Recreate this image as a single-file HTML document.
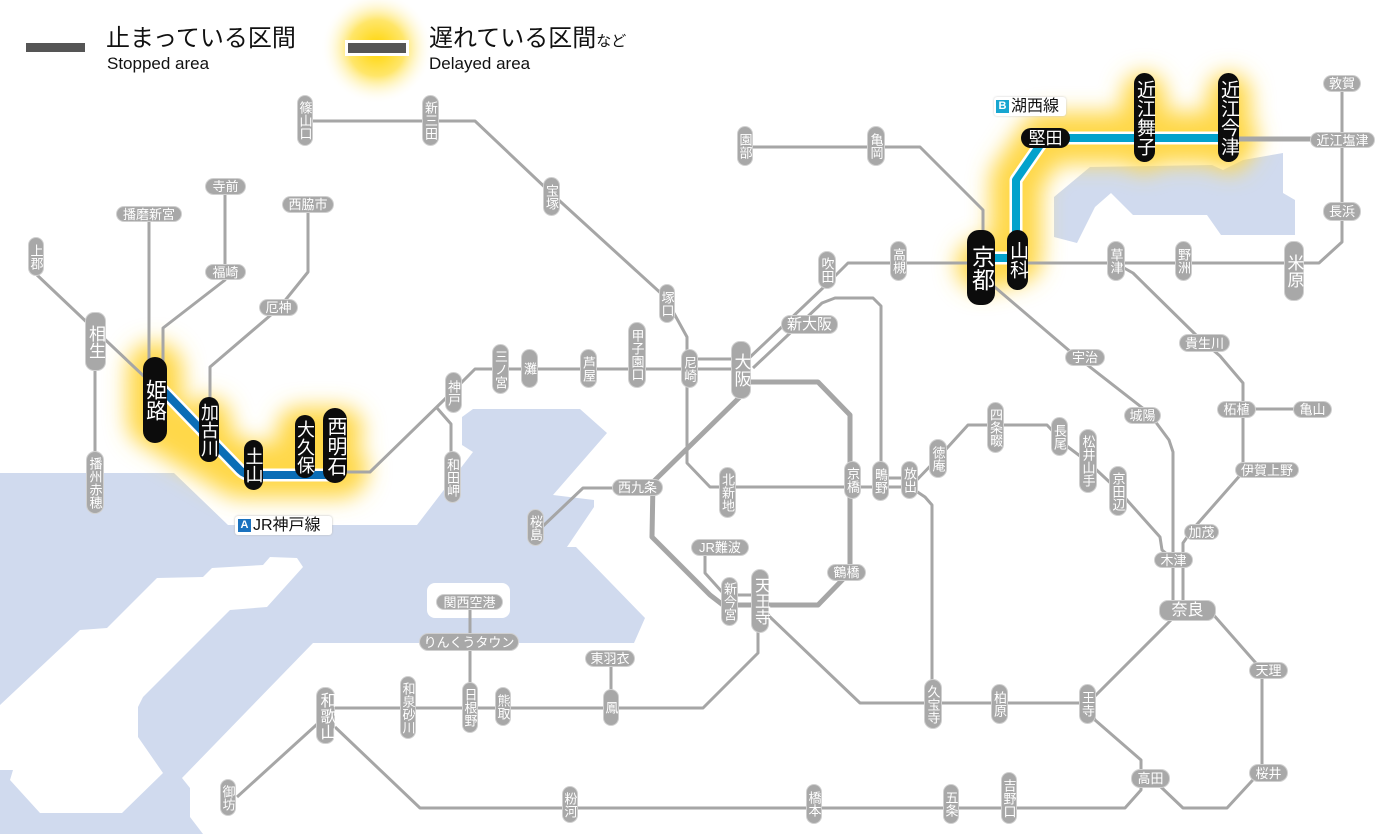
<!DOCTYPE html>
<html><head><meta charset="utf-8">
<style>
html,body{margin:0;padding:0;background:#fff}
#w{position:relative;width:1400px;height:834px;overflow:hidden;font-family:"Liberation Sans","Noto Sans CJK JP",sans-serif}
svg{position:absolute;left:0;top:0}
.p{position:absolute;background:#a8a8a8;color:#fff;border-radius:8px;display:flex;align-items:center;justify-content:center;font-size:13px;line-height:1;box-shadow:0 0 0 1px #d0d0d0;white-space:nowrap}
.v{writing-mode:vertical-rl;text-orientation:upright;letter-spacing:0}
.b{background:#0c0c0c;box-shadow:none;border-radius:12px;font-size:19px}
.L{position:absolute;color:#111;white-space:nowrap;line-height:1}
</style></head><body><div id="w">
<svg width="1400" height="834" viewBox="0 0 1400 834">
<defs>
<filter id="bl" x="-50%" y="-50%" width="200%" height="200%"><feGaussianBlur stdDeviation="11"/></filter>
<radialGradient id="rg"><stop offset="0" stop-color="#ffd400"/><stop offset="0.5" stop-color="#ffe66a"/><stop offset="1" stop-color="#fff" stop-opacity="0"/></radialGradient>
</defs>
<polygon fill="#d0daee" points="0,473 174,473 228,525 417,525 473,452 462,445 462,417 473,409 580,409 607,433 553,495 594,500 594,507 567,547 576,547 645,618 634,643 313,643 182,778 190,788 190,817 203,834 0,834"/>
<polygon fill="#fff" points="0,705 80,630 107,628 157,578 203,577 212,568 263,565 270,557 297,558 303,567 267,607 230,610 143,697 138,707 138,737 163,773 122,813 40,813 10,780 13,770 0,770"/>
<rect x="427" y="583" width="83" height="35" rx="8" fill="#fff"/>
<polygon fill="#d0daee" points="1054,197 1090,167 1212,165 1223,170 1243,160 1283,153 1283,193 1295,200 1295,235 1221,235 1207,215 1133,215 1111,193 1095,207 1077,243 1054,237"/>
<g filter="url(#bl)" fill="none" stroke-linecap="round" stroke-linejoin="round">
<path d="M155,370 L155,420 L240,470 L340,470" stroke="#ffd84a" stroke-width="56"/>
<path d="M208,420 L208,450 M300,430 L340,430" stroke="#ffd84a" stroke-width="46"/>
<path d="M982,265 L1016,258 L1016,180 L1045,138 L1232,138" stroke="#ffd84a" stroke-width="52"/>
<path d="M1144,95 L1144,150 M1229,95 L1229,150" stroke="#ffd84a" stroke-width="44"/>
</g>
<circle cx="377" cy="48" r="56" fill="url(#rg)"/>
<g fill="none" stroke="#a6a6a6" stroke-width="3" stroke-linejoin="round">
<path d="M37,275 L95,330 L150,382"/>
<path d="M95,340 L95,500"/>
<path d="M149,214 L149,370"/>
<path d="M225,187 L225,280 L163,328 L163,370"/>
<path d="M308,205 L308,272 L279,308 L210,367 L210,410"/>
<path d="M305,121 L475,121 L551,193 L665,297 L687,337 L687,463 L710,487 L910,487"/>
<path d="M347,472 L370,472 L446,398 L475,369 L740,369"/>
<path d="M690,359 L740,359"/>
<path d="M437,408 L451,424 L451,478"/>
<path d="M747,360 L826,285 L848,263 L1319,263 L1342,242 L1342,83"/>
<path d="M753,368 L822,303 L835,298 L873,298 L881,306 L881,480"/>
<path d="M745,147 L920,147 L983,210 L983,260"/>
<path d="M990,283 L1072,353 L1149,413 L1169,440 L1173,452 L1173,610"/>
<path d="M1115,263 L1133,273 L1198,337 L1220,356 L1243,383 L1243,472 L1192,530 L1183,543 L1183,610"/>
<path d="M1243,409 L1312,409"/>
<path d="M1229,140 L1342,140"/>
<path d="M910,487 L938,458 L968,425 L1047,425 L1068,447 L1088,462 L1118,490 L1160,537 L1162,550 L1174,560"/>
<path d="M910,487 L925,497 L932,505 L932,703"/>
<path d="M761,605 L770,617 L860,703 L1088,703 L1174,617"/>
<path d="M1088,703 L1095,720 L1141,760 L1141,790 L1125,808 L420,808 L335,727"/>
<path d="M1151,778 L1162,788 L1183,808 L1227,808 L1262,770 L1262,670 L1211,612"/>
<path d="M325,708 L703,708 L758,653 L758,620"/>
<path d="M325,717 L237,797"/>
<path d="M470,600 L470,708"/>
<path d="M611,658 L611,708"/>
<path d="M542,527 L583,488 L660,488"/>
<path d="M705,548 L705,573 L723,593"/>
<path d="M727,595 L760,595"/>
<path d="M881,478 L910,478"/>
<path d="M1232,138 L1342,138"/>
<path d="M982,258 L1016,258"/>
</g>
<path d="M745,392 L653,482 L652,537 L710,595 L723,605 L818,605 L850,572 L850,415 L818,382 L748,382" fill="none" stroke="#a6a6a6" stroke-width="5" stroke-linejoin="round"/>
<g fill="none" stroke-linejoin="round">
<path d="M155,382 L240,470 Q245,475 252,475 L335,475" stroke="#fff" stroke-width="13"/>
<path d="M155,382 L240,470 Q245,475 252,475 L335,475" stroke="#0a6db6" stroke-width="8"/>
<path d="M982,258 L1016,258 L1016,180 L1045,138 L1229,138" stroke="#fff" stroke-width="13"/>
<path d="M982,258 L1016,258 L1016,180 L1045,138 L1229,138" stroke="#03a2cc" stroke-width="8"/>
</g>
<rect x="26" y="43" width="59" height="9" fill="#555"/>
<rect x="345" y="40" width="64" height="16" fill="#fff"/>
<rect x="348" y="43" width="58" height="10" fill="#555"/>
</svg>

<div class="L" style="left:106px;top:27px;font-size:24px">止まっている区間</div>
<div class="L" style="left:107px;top:55px;font-size:17px">Stopped area</div>
<div class="L" style="left:429px;top:27px;font-size:24px">遅れている区間<span style="font-size:15px">など</span></div>
<div class="L" style="left:429px;top:55px;font-size:17px">Delayed area</div>

<div class="L" style="left:235px;top:516px;width:97px;height:19px;background:#fff;border-radius:3px;box-shadow:0 0 2px #bbb;font-size:16px;display:flex;align-items:center"><span style="background:#1a72bf;color:#fff;font-size:11px;font-weight:bold;width:13px;height:13px;display:inline-flex;align-items:center;justify-content:center;margin:0 2px 0 3px">A</span>JR神戸線</div>
<div class="L" style="left:994px;top:97px;width:72px;height:19px;background:#fff;border-radius:3px;box-shadow:0 0 2px #ccc;font-size:16px;display:flex;align-items:center"><span style="background:#18a6d0;color:#fff;font-size:11px;font-weight:bold;width:13px;height:13px;display:inline-flex;align-items:center;justify-content:center;margin:0 2px 0 2px">B</span>湖西線</div>

<div class="p v" style="left:29px;top:238px;width:14px;height:37px">上郡</div>
<div class="p v" style="left:86px;top:313px;width:19px;height:57px;font-size:17px">相生</div>
<div class="p v" style="left:87px;top:452px;width:16px;height:61px">播州赤穂</div>
<div class="p v" style="left:298px;top:96px;width:14px;height:49px">篠山口</div>
<div class="p v" style="left:423px;top:96px;width:15px;height:49px">新三田</div>
<div class="p v" style="left:544px;top:178px;width:15px;height:37px">宝塚</div>
<div class="p v" style="left:660px;top:285px;width:14px;height:37px">塚口</div>
<div class="p v" style="left:493px;top:345px;width:15px;height:48px">三ノ宮</div>
<div class="p v" style="left:522px;top:350px;width:15px;height:37px">灘</div>
<div class="p v" style="left:581px;top:350px;width:15px;height:37px">芦屋</div>
<div class="p v" style="left:629px;top:323px;width:16px;height:64px">甲子園口</div>
<div class="p v" style="left:446px;top:373px;width:15px;height:39px">神戸</div>
<div class="p v" style="left:445px;top:452px;width:15px;height:50px">和田岬</div>
<div class="p v" style="left:682px;top:350px;width:15px;height:37px">尼崎</div>
<div class="p v" style="left:732px;top:342px;width:18px;height:56px;font-size:17px">大阪</div>
<div class="p v" style="left:720px;top:468px;width:15px;height:49px">北新地</div>
<div class="p v" style="left:845px;top:462px;width:15px;height:36px">京橋</div>
<div class="p v" style="left:873px;top:462px;width:15px;height:38px">鴫野</div>
<div class="p v" style="left:902px;top:462px;width:15px;height:36px">放出</div>
<div class="p v" style="left:930px;top:440px;width:16px;height:37px">徳庵</div>
<div class="p v" style="left:988px;top:403px;width:15px;height:49px">四条畷</div>
<div class="p v" style="left:1052px;top:418px;width:15px;height:37px">長尾</div>
<div class="p v" style="left:1080px;top:430px;width:16px;height:62px">松井山手</div>
<div class="p v" style="left:1110px;top:467px;width:16px;height:48px">京田辺</div>
<div class="p v" style="left:722px;top:578px;width:15px;height:47px">新今宮</div>
<div class="p v" style="left:752px;top:570px;width:16px;height:62px;font-size:16px">天王寺</div>
<div class="p v" style="left:925px;top:680px;width:16px;height:48px">久宝寺</div>
<div class="p v" style="left:992px;top:685px;width:15px;height:38px">柏原</div>
<div class="p v" style="left:1080px;top:685px;width:15px;height:38px">王寺</div>
<div class="p v" style="left:1002px;top:773px;width:14px;height:50px">吉野口</div>
<div class="p v" style="left:944px;top:785px;width:14px;height:38px">五条</div>
<div class="p v" style="left:807px;top:785px;width:14px;height:38px">橋本</div>
<div class="p v" style="left:563px;top:787px;width:14px;height:35px">粉河</div>
<div class="p v" style="left:221px;top:780px;width:14px;height:35px">御坊</div>
<div class="p v" style="left:317px;top:688px;width:17px;height:55px;font-size:16px">和歌山</div>
<div class="p v" style="left:401px;top:677px;width:14px;height:61px">和泉砂川</div>
<div class="p v" style="left:463px;top:683px;width:14px;height:49px">日根野</div>
<div class="p v" style="left:496px;top:688px;width:14px;height:37px">熊取</div>
<div class="p v" style="left:604px;top:690px;width:14px;height:35px">鳳</div>
<div class="p v" style="left:528px;top:510px;width:15px;height:35px">桜島</div>
<div class="p v" style="left:738px;top:127px;width:14px;height:38px">園部</div>
<div class="p v" style="left:868px;top:127px;width:16px;height:38px">亀岡</div>
<div class="p v" style="left:819px;top:252px;width:16px;height:36px">吹田</div>
<div class="p v" style="left:891px;top:242px;width:15px;height:38px">高槻</div>
<div class="p v" style="left:1108px;top:242px;width:16px;height:38px">草津</div>
<div class="p v" style="left:1176px;top:242px;width:15px;height:38px">野洲</div>
<div class="p v" style="left:1285px;top:242px;width:18px;height:58px;font-size:17px">米原</div>

<div class="p" style="left:117px;top:207px;width:64px;height:14px">播磨新宮</div>
<div class="p" style="left:206px;top:179px;width:39px;height:15px">寺前</div>
<div class="p" style="left:283px;top:197px;width:50px;height:15px">西脇市</div>
<div class="p" style="left:206px;top:265px;width:39px;height:14px">福崎</div>
<div class="p" style="left:260px;top:300px;width:37px;height:15px">厄神</div>
<div class="p" style="left:782px;top:316px;width:55px;height:17px;font-size:15px">新大阪</div>
<div class="p" style="left:613px;top:480px;width:49px;height:15px">西九条</div>
<div class="p" style="left:692px;top:540px;width:56px;height:15px">JR難波</div>
<div class="p" style="left:828px;top:565px;width:37px;height:15px">鶴橋</div>
<div class="p" style="left:437px;top:595px;width:65px;height:14px">関西空港</div>
<div class="p" style="left:420px;top:634px;width:98px;height:16px">りんくうタウン</div>
<div class="p" style="left:586px;top:651px;width:48px;height:15px">東羽衣</div>
<div class="p" style="left:1125px;top:408px;width:35px;height:15px">城陽</div>
<div class="p" style="left:1066px;top:350px;width:38px;height:15px">宇治</div>
<div class="p" style="left:1180px;top:335px;width:49px;height:16px">貴生川</div>
<div class="p" style="left:1218px;top:402px;width:37px;height:15px">柘植</div>
<div class="p" style="left:1294px;top:402px;width:37px;height:15px">亀山</div>
<div class="p" style="left:1236px;top:463px;width:62px;height:14px">伊賀上野</div>
<div class="p" style="left:1185px;top:525px;width:33px;height:14px">加茂</div>
<div class="p" style="left:1155px;top:553px;width:37px;height:14px">木津</div>
<div class="p" style="left:1160px;top:601px;width:55px;height:19px;font-size:16px">奈良</div>
<div class="p" style="left:1250px;top:663px;width:37px;height:15px">天理</div>
<div class="p" style="left:1250px;top:765px;width:37px;height:16px">桜井</div>
<div class="p" style="left:1132px;top:770px;width:37px;height:17px">高田</div>
<div class="p" style="left:1324px;top:203px;width:36px;height:17px">長浜</div>
<div class="p" style="left:1324px;top:76px;width:36px;height:15px">敦賀</div>
<div class="p" style="left:1311px;top:133px;width:63px;height:14px">近江塩津</div>

<div class="p v b" style="left:143px;top:357px;width:24px;height:86px;font-size:21px">姫路</div>
<div class="p v b" style="left:199px;top:397px;width:20px;height:65px;font-size:18px">加古川</div>
<div class="p v b" style="left:244px;top:440px;width:19px;height:50px;font-size:18px">土山</div>
<div class="p v b" style="left:295px;top:415px;width:20px;height:63px;font-size:18px">大久保</div>
<div class="p v b" style="left:323px;top:408px;width:24px;height:75px;font-size:20px">西明石</div>
<div class="p v b" style="left:967px;top:230px;width:28px;height:75px;font-size:23px">京都</div>
<div class="p v b" style="left:1007px;top:230px;width:21px;height:60px;font-size:19px">山科</div>
<div class="p b" style="left:1021px;top:128px;width:49px;height:20px;font-size:17px;border-radius:10px">堅田</div>
<div class="p v b" style="left:1134px;top:73px;width:21px;height:89px;font-size:19px">近江舞子</div>
<div class="p v b" style="left:1218px;top:73px;width:21px;height:89px;font-size:19px">近江今津</div>
</div></body></html>
